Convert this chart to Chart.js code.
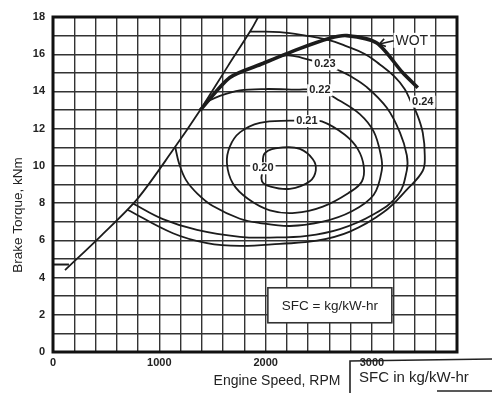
<!DOCTYPE html>
<html><head><meta charset="utf-8">
<script src="https://cdn.jsdelivr.net/npm/chart.js@4.4.1/dist/chart.umd.min.js"></script>
<style>html,body{margin:0;padding:0;background:#fff;}#wrap{width:498px;height:409px;}</style>
</head><body><div id="wrap"><canvas id="c" width="498" height="409"></canvas></div>
<script>
// ---- axis ticks ----
const xLabelTicks = [0, 1000, 2000, 3000];
const yLabelTicks = [0, 2, 4, 6, 8, 10, 12, 14, 16, 18];

// ---- limit line (left boundary) ----
const stubRpm = [0, 150];
const stubTorque = [4.7, 4.7];
const limitRpm = [113, 442, 790, 1128, 1382, 1645, 1871, 1930];
const limitTorque = [4.40, 6.19, 8.20, 10.85, 12.98, 15.36, 17.38, 18.0];

// ---- wide open throttle ----
const wotRpm = [1382, 1664, 1974, 2294, 2604, 2764, 3046, 3290, 3431];
const wotTorque = [12.98, 14.75, 15.5, 16.25, 16.86, 17.0, 16.6, 15.0, 14.2];

// ---- SFC contours (kg/kW-hr) ----
const sfc020Rpm = [1974, 1993, 2162, 2322, 2444, 2472, 2416, 2228, 2040, 1965, 1974];
const sfc020Torque = [9.87, 10.68, 10.99, 10.91, 10.36, 9.76, 9.18, 8.77, 8.90, 9.18, 9.87];
const sfc021Rpm = [2388, 2529, 2745, 2867, 2923, 2905, 2792, 2538, 2275, 2040, 1833, 1692, 1636, 1664, 1758, 1946, 2228, 2388];
const sfc021Torque = [12.41, 12.39, 11.67, 10.90, 9.97, 9.16, 8.59, 7.81, 7.47, 7.61, 8.23, 9.05, 10.14, 11.05, 11.80, 12.31, 12.43, 12.41];
const sfc022Rpm = [1429, 1570, 1758, 1993, 2275, 2510, 2698, 2886, 3017, 3083, 3093, 3017, 2811, 2538, 2228, 1946, 1758, 1504, 1360, 1250, 1185, 1150];
const sfc022Torque = [13.40, 13.76, 14.06, 14.13, 14.10, 14.06, 13.50, 12.78, 11.84, 10.60, 9.78, 8.45, 7.56, 7.00, 6.77, 6.93, 7.16, 7.84, 8.50, 9.25, 10.15, 11.0];
const sfc023Rpm = [2087, 2209, 2341, 2557, 2670, 2792, 2952, 3140, 3262, 3328, 3328, 3243, 3008, 2698, 2388, 2040, 1758, 1354, 1034, 752];
const sfc023Torque = [15.80, 15.94, 15.81, 15.46, 15.18, 14.84, 14.23, 13.12, 11.81, 10.57, 9.76, 8.42, 7.37, 6.60, 6.24, 6.15, 6.19, 6.56, 7.14, 7.98];
const sfc024Rpm = [1852, 2134, 2388, 2604, 2745, 2933, 3074, 3215, 3309, 3365, 3422, 3478, 3497, 3478, 3337, 3111, 2792, 2482, 2134, 1758, 1448, 1128, 696];
const sfc024Torque = [17.21, 17.19, 16.99, 16.75, 16.46, 16.01, 15.45, 14.78, 14.12, 13.46, 12.81, 11.78, 10.54, 9.74, 8.78, 7.52, 6.47, 5.98, 5.81, 5.70, 5.85, 6.38, 7.66];

// ---- contour labels ----
const contourLabels = ['0.20', '0.21', '0.22', '0.23', '0.24'];
const contourLabelRpm = [1974, 2388, 2510, 2557, 3478];
const contourLabelTorque = [9.87, 12.41, 14.06, 15.46, 13.45];

const pts = (xs, ys) => xs.map((x, i) => ({x: x, y: ys[i]}));
const INK = '#1c1c1c';
const line = (xs, ys, w, t) => ({data: pts(xs, ys), showLine: true, borderColor: INK, borderWidth: w, pointRadius: 0, tension: t, fill: false});

const annot = {
  id: 'annot',
  beforeDatasetsDraw(chart) {
    const {ctx, scales: {x, y}} = chart;
    // SFC box
    const l = x.getPixelForValue(2021), r = x.getPixelForValue(3187);
    const t = y.getPixelForValue(3.45), b = y.getPixelForValue(1.57);
    ctx.save();
    ctx.fillStyle = '#fff';
    ctx.fillRect(l, t, r - l, b - t);
    ctx.strokeStyle = '#333'; ctx.lineWidth = 1.6;
    ctx.strokeRect(l, t, r - l, b - t);
    ctx.fillStyle = '#222';
    ctx.font = '13.5px "Liberation Sans", Arial, sans-serif';
    ctx.textAlign = 'center'; ctx.textBaseline = 'middle';
    ctx.fillText('SFC = kg/kW-hr', (l + r) / 2, (t + b) / 2 + 1);
    ctx.restore();
  },
  afterDatasetsDraw(chart) {
    const {ctx, chartArea: a, scales: {x, y}} = chart;
    ctx.save();
    // frame
    ctx.strokeStyle = '#111'; ctx.lineWidth = 3;
    ctx.strokeRect(a.left, a.top, a.right - a.left, a.bottom - a.top);
    // contour labels
    ctx.font = 'bold 11px "Liberation Sans", Arial, sans-serif';
    ctx.textAlign = 'center'; ctx.textBaseline = 'middle';
    contourLabels.forEach((s, i) => {
      const px = x.getPixelForValue(contourLabelRpm[i]), py = y.getPixelForValue(contourLabelTorque[i]);
      const w = ctx.measureText(s).width + 4;
      ctx.fillStyle = '#fff';
      ctx.fillRect(px - w / 2, py - 6, w, 12);
      ctx.fillStyle = '#222';
      ctx.fillText(s, px, py);
    });
    // WOT label + arrow
    const tx = x.getPixelForValue(3205), ty = y.getPixelForValue(16.72);
    const hx = x.getPixelForValue(3070), hy = y.getPixelForValue(16.55);
    ctx.font = '14px "Liberation Sans", Arial, sans-serif';
    const ww = ctx.measureText('WOT').width;
    const lx = x.getPixelForValue(3375);
    ctx.fillStyle = '#fff';
    ctx.fillRect(lx - ww / 2 - 2, ty - 8, ww + 4, 15);
    ctx.fillStyle = '#222';
    ctx.fillText('WOT', lx, ty);
    ctx.strokeStyle = INK; ctx.lineWidth = 1.6;
    ctx.beginPath(); ctx.moveTo(tx, ty); ctx.lineTo(hx, hy); ctx.stroke();
    const ang = Math.atan2(hy - ty, hx - tx);
    ctx.beginPath();
    ctx.moveTo(hx - 7 * Math.cos(ang - 0.6), hy - 7 * Math.sin(ang - 0.6));
    ctx.lineTo(hx, hy);
    ctx.lineTo(hx - 7 * Math.cos(ang + 0.6), hy - 7 * Math.sin(ang + 0.6));
    ctx.stroke();
    ctx.restore();
  },
  afterDraw(chart) {
    const {ctx} = chart;
    ctx.save();
    ctx.fillStyle = '#222';
    // axis titles
    ctx.font = '14px "Liberation Sans", Arial, sans-serif';
    ctx.textAlign = 'center'; ctx.textBaseline = 'middle';
    ctx.fillText('Engine Speed, RPM', 277, 381);
    ctx.save();
    ctx.translate(18, 215);
    ctx.rotate(-Math.PI / 2);
    ctx.font = '13.5px "Liberation Sans", Arial, sans-serif';
    ctx.fillText('Brake Torque, kNm', 0, 0);
    ctx.restore();
    // bottom-right note
    ctx.strokeStyle = '#222'; ctx.lineWidth = 1.6;
    ctx.beginPath(); ctx.moveTo(350, 393); ctx.lineTo(350, 361); ctx.lineTo(492, 359); ctx.stroke();
    ctx.beginPath(); ctx.moveTo(437, 391); ctx.lineTo(492, 391); ctx.stroke();
    ctx.font = '15px "Liberation Sans", Arial, sans-serif';
    ctx.textAlign = 'left';
    ctx.fillText('SFC in kg/kW-hr', 359, 378);
    ctx.restore();
  }
};

new Chart(document.getElementById('c'), {
  type: 'scatter',
  data: {
    datasets: [
      line(sfc020Rpm, sfc020Torque, 1.8, 0.4),
      line(sfc021Rpm, sfc021Torque, 1.8, 0.4),
      line(sfc022Rpm, sfc022Torque, 1.8, 0.35),
      line(sfc023Rpm, sfc023Torque, 1.8, 0.4),
      line(sfc024Rpm, sfc024Torque, 1.8, 0.4),
      line(stubRpm, stubTorque, 2, 0),
      line(limitRpm, limitTorque, 1.8, 0.3),
      line(wotRpm, wotTorque, 3.6, 0.25)
    ]
  },
  options: {
    responsive: false,
    devicePixelRatio: 1,
    animation: false,
    layout: {padding: {top: 17, right: 41, left: 0, bottom: 0}},
    plugins: {legend: {display: false}, tooltip: {enabled: false}},
    scales: {
      x: {
        type: 'linear', min: 0, max: 3800,
        afterFit(s) { s.height = 57; },
        ticks: {stepSize: 200, autoSkip: false, maxRotation: 0, padding: 4, color: '#222',
          font: {family: '"Liberation Sans", Arial, sans-serif', size: 11, weight: 'bold'},
          callback: v => xLabelTicks.includes(v) ? String(v) : ''},
        grid: {color: '#333', lineWidth: 1.4, drawTicks: false},
        border: {display: false}
      },
      y: {
        type: 'linear', min: 0, max: 18,
        afterFit(s) { s.width = 53; },
        ticks: {stepSize: 1, autoSkip: false, padding: 8, color: '#222',
          font: {family: '"Liberation Sans", Arial, sans-serif', size: 11, weight: 'bold'},
          callback: v => yLabelTicks.includes(v) ? String(v) : ''},
        grid: {color: '#333', lineWidth: 1.4, drawTicks: false},
        border: {display: false}
      }
    }
  },
  plugins: [annot]
});
</script></body></html>
